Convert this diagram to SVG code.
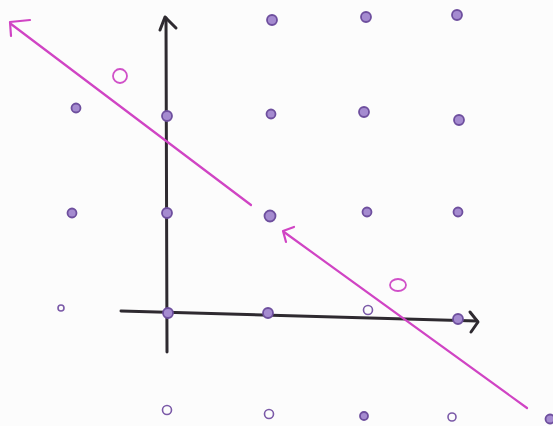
<svg xmlns="http://www.w3.org/2000/svg" width="553" height="426" viewBox="0 0 553 426">
<style>
.dot{fill:#a58bd0;stroke:#6e4f9e;stroke-width:1.8}
.odot{fill:none;stroke:#7b5aa8;stroke-width:1.6}
.axis{stroke:#2e2a30;stroke-width:3;fill:none;stroke-linecap:round;stroke-linejoin:round}
.mag{stroke:#d044c4;stroke-width:2.2;fill:none;stroke-linecap:round;stroke-linejoin:round}
.ring{fill:none;stroke:#d050c8;stroke-width:1.8}
</style>
<rect width="553" height="426" fill="#fcfcfc"/>
<g id="axes">
<path class="axis" d="M167,352 L166,18"/>
<path class="axis" d="M160,30 L165,17 L176,28"/>
<path class="axis" d="M121,311 L477,321"/>
<path class="axis" d="M470,312 L478,322 L471,332"/>
</g>
<g id="dots">
<circle class="dot" cx="272" cy="20" r="5"/>
<circle class="dot" cx="366" cy="17" r="5"/>
<circle class="dot" cx="457" cy="15" r="5"/>
<circle class="dot" cx="76" cy="108" r="4.5"/>
<circle class="dot" cx="167" cy="116" r="5"/>
<circle class="dot" cx="271" cy="114" r="4.5"/>
<circle class="dot" cx="364" cy="112" r="5"/>
<circle class="dot" cx="459" cy="120" r="5"/>
<circle class="dot" cx="72" cy="213" r="4.5"/>
<circle class="dot" cx="167" cy="213" r="5"/>
<circle class="dot" cx="270" cy="216" r="5.5"/>
<circle class="dot" cx="367" cy="212" r="4.5"/>
<circle class="dot" cx="458" cy="212" r="4.5"/>
<circle class="odot" cx="61" cy="308" r="3"/>
<circle class="dot" cx="168" cy="313" r="5"/>
<circle class="dot" cx="268" cy="313" r="5"/>
<circle class="odot" cx="368" cy="310" r="4.5"/>
<circle class="dot" cx="458" cy="319" r="5"/>
<circle class="odot" cx="167" cy="410" r="4.5"/>
<circle class="odot" cx="269" cy="414" r="4.5"/>
<circle class="dot" cx="364" cy="416" r="4"/>
<circle class="odot" cx="452" cy="417" r="4"/>
<circle class="dot" cx="550" cy="419" r="4.5"/>
</g>
<g id="connectors">
<path class="mag" d="M11,24 L251,205"/>
<path class="mag" d="M11,36 L10,22 L30,20" stroke-width="3.2"/>
<path class="mag" d="M284,232 L527,408"/>
<path class="mag" d="M286,242 L283,231 L294,227" stroke-width="3.2"/>
</g>
<g id="rings">
<circle class="ring" cx="120" cy="76" r="7"/>
<ellipse class="ring" cx="398" cy="285" rx="8" ry="6"/>
</g>
</svg>
